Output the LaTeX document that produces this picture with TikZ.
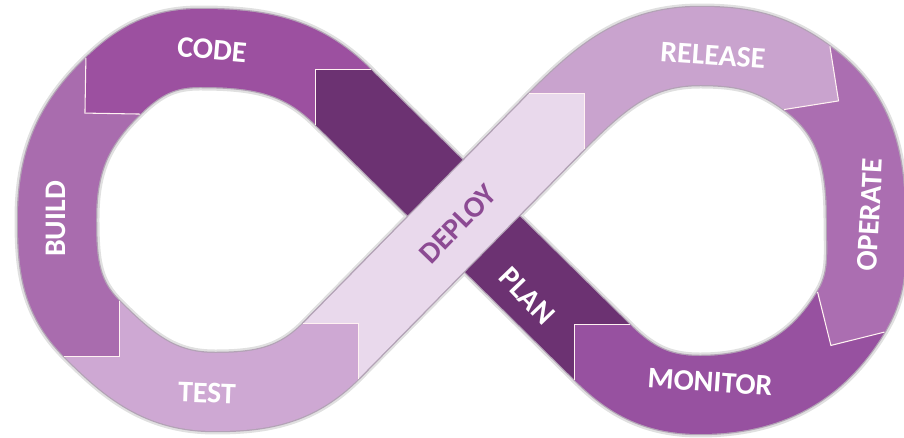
\documentclass[tikz,border=0pt]{standalone}
\usepackage{fontspec}
\setmainfont{Carlito}
\usetikzlibrary{calc}

\definecolor{codecol}{HTML}{9C50A0}
\definecolor{buildcol}{HTML}{A96CAE}
\definecolor{testcol}{HTML}{CEA8D3}
\definecolor{deploycol}{HTML}{E9D9EC}
\definecolor{releasecol}{HTML}{C9A3CE}
\definecolor{operatecol}{HTML}{AB6EB1}
\definecolor{monitorcol}{HTML}{9751A0}
\definecolor{plancol}{HTML}{6C3272}
\definecolor{deploytext}{HTML}{8C4A93}
\definecolor{rimcol}{HTML}{B3A3B6}

\tikzset{
  band/.style={line width=1.56cm},
  rim/.style={line width=1.61cm, draw=rimcol, line join=round},
  tipline/.style={draw=white!80!pink, line width=0.6pt},
  lbl/.style={text=white, inner sep=0pt, font=\fontsize{17}{20}\selectfont\bfseries}
}

% chevron tip: point, heading, colour
\newcommand{\segtip}[3]{%
  \fill[#3] ($(#1)+(#2+90:0.78cm)+(#2:-0.08cm)$) -- ($(#1)+(#2+90:0.78cm)$)
    -- ($(#1)+(#2:0.78cm)$) -- ($(#1)+(#2-90:0.78cm)$)
    -- ($(#1)+(#2-90:0.78cm)+(#2:-0.08cm)$) -- cycle;
  \draw[tipline] ($(#1)+(#2+90:0.78cm)$) -- ($(#1)+(#2:0.78cm)$) -- ($(#1)+(#2-90:0.78cm)$);
}

\begin{document}
\begin{tikzpicture}[x=0.02cm, y=0.02cm]
\useasboundingbox (0,0) rectangle (904,437);

% hand-over points and turning points of the loop
\coordinate (m1) at (343,340);
\coordinate (tl) at (200,389);
\coordinate (m2) at (113,351);
\coordinate (ll) at (57,218);
\coordinate (m3) at (92,108);
\coordinate (bl) at (215,45);
\coordinate (m4) at (331,86);
\coordinate (m5) at (557,316);
\coordinate (tr) at (700,391);
\coordinate (m6) at (807,359);
\coordinate (rr) at (866,217);
\coordinate (m7) at (851,125);
\coordinate (br) at (700,42);
\coordinate (m8) at (602,85);

% shadow and rim
\draw[line width=1.7cm, black, opacity=0.12, shift={(2,-4)}, line join=round]
  (m1) to[out=135,in=0] (tl) to[out=180,in=44] (m2) to[out=224,in=90] (ll)
  to[out=270,in=135] (m3) to[out=-45,in=180] (bl) to[out=0,in=225] (m4) -- (m5)
  to[out=45,in=180] (tr) to[out=0,in=144] (m6) to[out=-36,in=90] (rr)
  to[out=270,in=59] (m7) to[out=239,in=0] (br) to[out=180,in=-45] (m8) -- cycle;
\draw[rim]
  (m1) to[out=135,in=0] (tl) to[out=180,in=44] (m2) to[out=224,in=90] (ll)
  to[out=270,in=135] (m3) to[out=-45,in=180] (bl) to[out=0,in=225] (m4) -- (m5)
  to[out=45,in=180] (tr) to[out=0,in=144] (m6) to[out=-36,in=90] (rr)
  to[out=270,in=59] (m7) to[out=239,in=0] (br) to[out=180,in=-45] (m8) -- cycle;

% the eight steps
\draw[band, codecol] (m1) to[out=135,in=0] (tl) to[out=180,in=44] (m2);
\draw[band, buildcol] (m2) to[out=224,in=90] (ll) to[out=270,in=135] (m3);
\draw[band, testcol] (m3) to[out=-45,in=180] (bl) to[out=0,in=225] (m4);
\draw[band, releasecol] (m5) to[out=45,in=180] (tr) to[out=0,in=144] (m6);
\draw[band, operatecol] (m6) to[out=-36,in=90] (rr) to[out=270,in=59] (m7);
\draw[band, monitorcol] (m7) to[out=239,in=0] (br) to[out=180,in=-45] (m8);
\draw[band, plancol] (m8) -- (m1);
% deploy crosses over plan
\draw[rim] (m4) -- (m5);
\draw[band, deploycol] (m4) -- (m5);

% arrow tips
\segtip{m1}{135}{plancol}
\segtip{m2}{224}{codecol}
\segtip{m3}{-45}{buildcol}
\segtip{m4}{45}{testcol}
\segtip{m5}{45}{deploycol}
\segtip{m6}{-36}{releasecol}
\segtip{m7}{239}{operatecol}
\segtip{m8}{135}{monitorcol}

% labels
\node[lbl, rotate=-5] (code) at (212,387) {CODE};
\node[lbl, rotate=90] (build) at (56,218) {BUILD};
\node[lbl, rotate=-2] (test) at (207,44) {TEST};
\node[lbl, rotate=46, text=deploytext] (deploy) at (458,213) {DEPLOY};
\node[lbl, rotate=-4] (release) at (713,382) {RELEASE};
\node[lbl, rotate=87] (operate) at (870,222) {OPERATE};
\node[lbl, rotate=-4] (monitor) at (710,55) {MONITOR};
\node[lbl, rotate=-46] (plan) at (527,141) {PLAN};
\end{tikzpicture}
\end{document}
